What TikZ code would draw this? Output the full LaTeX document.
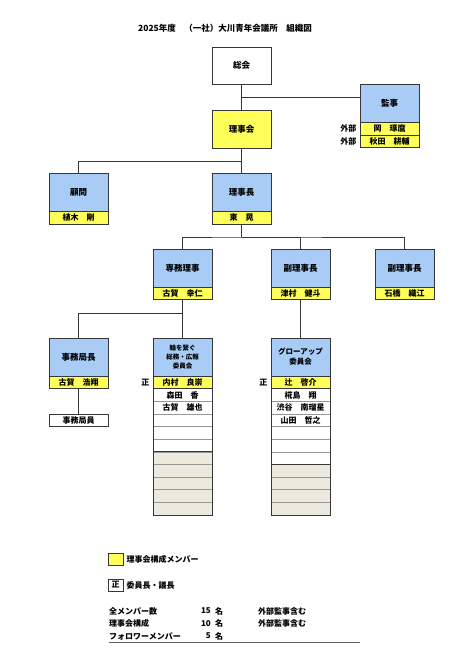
\documentclass[tikz,border=0pt]{standalone}
\usepackage{fontspec}
\setmainfont{Noto Sans CJK JP}
\usetikzlibrary{positioning}
\definecolor{headblue}{RGB}{168,204,245}
\definecolor{cellyellow}{RGB}{255,255,90}
\definecolor{cellgrey}{RGB}{236,233,223}
\definecolor{boxline}{RGB}{55,55,55}
\definecolor{rowline}{RGB}{150,150,150}
\newcommand\fsz[2]{\fontsize{#1}{#2}\selectfont\bfseries}

\begin{document}
\begin{tikzpicture}[x=1pt,y=-1pt,
  box/.style={draw=boxline,line width=0.8pt,outer sep=0pt,minimum width=59pt,inner sep=0pt,font=\fsz{8.5}{10}},
  head/.style={box,fill=headblue,minimum height=38pt},
  member/.style={box,fill=cellyellow,minimum height=12.5pt,font=\fsz{8}{9}},
  row/.style={draw=rowline,line width=0.6pt,outer sep=0pt,fill=white,minimum width=59pt,minimum height=12.64pt,inner sep=0pt,font=\fsz{8}{9}},
  greyrow/.style={row,fill=cellgrey},
  link/.style={draw=boxline,line width=0.7pt},
  side/.style={anchor=east,font=\fsz{8}{9}},
  legend/.style={anchor=west,font=\fsz{8}{9},inner sep=0pt}]
  \useasboundingbox (0,0) rectangle (472,661);

  \node[font=\fsz{8.5}{10}] (title) at (225,28) {2025年度　（一社）大川青年会議所　組織図};

  % top of the chart
  \node[box,fill=white,minimum height=37pt] (soukai) at (241.5,65.5) {総会};
  \node[box,fill=cellyellow,minimum height=38pt] (rijikai) at (241.5,129) {理事会};
  \node[head] (kanji) at (389.5,103.5) {監事};
  \node[member,below=0pt of kanji] (kanjiA) {岡　琢麿};
  \node[member,below=0pt of kanjiA] (kanjiB) {秋田　耕輔};
  \node[side] at (kanjiA.west) {外部};
  \node[side] at (kanjiB.west) {外部};

  \node[head] (komon) at (78.5,192.5) {顧問};
  \node[member,below=0pt of komon] (komonA) {植木　剛};
  \node[head] (rijicho) at (241.5,192.5) {理事長};
  \node[member,below=0pt of rijicho] (rijichoA) {東　晃};

  \node[head] (senmu) at (182.5,268) {専務理事};
  \node[member,below=0pt of senmu] (senmuA) {古賀　幸仁};
  \node[head] (fukuA) at (300.5,268) {副理事長};
  \node[member,below=0pt of fukuA] (fukuAname) {津村　健斗};
  \node[head] (fukuB) at (404.5,268) {副理事長};
  \node[member,below=0pt of fukuB] (fukuBname) {石橋　織江};

  \node[head] (jimukyoku) at (78.5,357) {事務局長};
  \node[member,below=0pt of jimukyoku] (jimukyokuA) {古賀　浩翔};
  \node[box,fill=white,minimum height=12.5pt,font=\fsz{8}{9}] (jimuin) at (78.5,420.5) {事務局員};

  % committees
  \node[head,font=\fsz{6.5}{9},align=center] (wa) at (182.5,357) {輪を繋ぐ\\総務・広報\\委員会};
  \node[head,font=\fsz{7.5}{10},align=center] (gu) at (300.5,357) {グローアップ\\委員会};
  \foreach \t [count=\i] in {内村　良崇,森田　香,古賀　雄也,,,}
    \node[row,anchor=north] (wa\i) at (182.5,{376+(\i-1)*12.64}) {\t};
  \foreach \i in {7,...,11}
    \node[greyrow,anchor=north] (wa\i) at (182.5,{376+(\i-1)*12.64}) {};
  \foreach \t [count=\i] in {辻　啓介,椛島　翔,渋谷　南瑠星,山田　哲之,,,}
    \node[row,anchor=north] (gu\i) at (300.5,{376+(\i-1)*12.64}) {\t};
  \foreach \i in {8,...,11}
    \node[greyrow,anchor=north] (gu\i) at (300.5,{376+(\i-1)*12.64}) {};
  \node[member] (waChair) at (wa1) {内村　良崇};
  \node[member] (guChair) at (gu1) {辻　啓介};
  \draw[boxline,line width=0.8pt] (wa.north west) rectangle (wa11.south east);
  \draw[boxline,line width=0.8pt] (wa6.south west) -- (wa6.south east);
  \draw[boxline,line width=0.8pt] (gu.north west) rectangle (gu11.south east);
  \draw[boxline,line width=0.8pt] (gu7.south west) -- (gu7.south east);
  \node[side] at (waChair.west) {正};
  \node[side] at (guChair.west) {正};

  % connectors
  \coordinate (kanjiJoint) at (241.5,97);
  \coordinate (komonJoint) at (241.5,161);
  \coordinate (rijichoJoint) at (241.5,237);
  \coordinate (senmuJoint) at (182.5,313);
  \draw[link] (soukai) -- (rijikai);
  \draw[link] (kanjiJoint) -- (kanji.west |- kanjiJoint);
  \draw[link] (rijikai) -- (rijicho);
  \draw[link] (komonJoint) -| (komon);
  \draw[link] (rijichoA) -- (rijichoJoint);
  \draw[link] (senmu) |- (rijichoJoint) -| (fukuB);
  \draw[link] (rijichoJoint) -| (fukuA);
  \draw[link] (senmuA) -- (wa);
  \draw[link] (senmuJoint) -| (jimukyoku);
  \draw[link] (fukuAname) -- (gu);
  \draw[link] (jimukyokuA) -- (jimuin);

  % legend
  \node[draw=boxline,line width=0.8pt,fill=cellyellow,minimum width=15pt,minimum height=12pt,inner sep=0pt] (keyYellow) at (115.5,559) {};
  \node[legend,right=3pt of keyYellow] (keyYellowText) {理事会構成メンバー};
  \node[draw=boxline,line width=0.8pt,fill=white,minimum width=15pt,minimum height=12pt,inner sep=0pt,font=\fsz{8}{9}] (keyChair) at (115.5,585) {正};
  \node[legend,right=3pt of keyChair] (keyChairText) {委員長・議長};

  \node[legend] (allLabel) at (109,611) {全メンバー数};
  \node[legend] (boardLabel) at (109,623.5) {理事会構成};
  \node[legend] (followLabel) at (109,636) {フォロワーメンバー};
  \node[legend,anchor=east] (allNum) at (211,611) {15};
  \node[legend,anchor=east] (boardNum) at (211,623.5) {10};
  \node[legend,anchor=east] (followNum) at (211,636) {5};
  \node[legend] (allUnit) at (215,611) {名};
  \node[legend] (boardUnit) at (215,623.5) {名};
  \node[legend] (followUnit) at (215,636) {名};
  \node[legend] (allNote) at (258,611) {外部監事含む};
  \node[legend] (boardNote) at (258,623.5) {外部監事含む};
  \draw[boxline!80,line width=1pt] (109,642.5) -- (360,642.5);
\end{tikzpicture}
\end{document}
